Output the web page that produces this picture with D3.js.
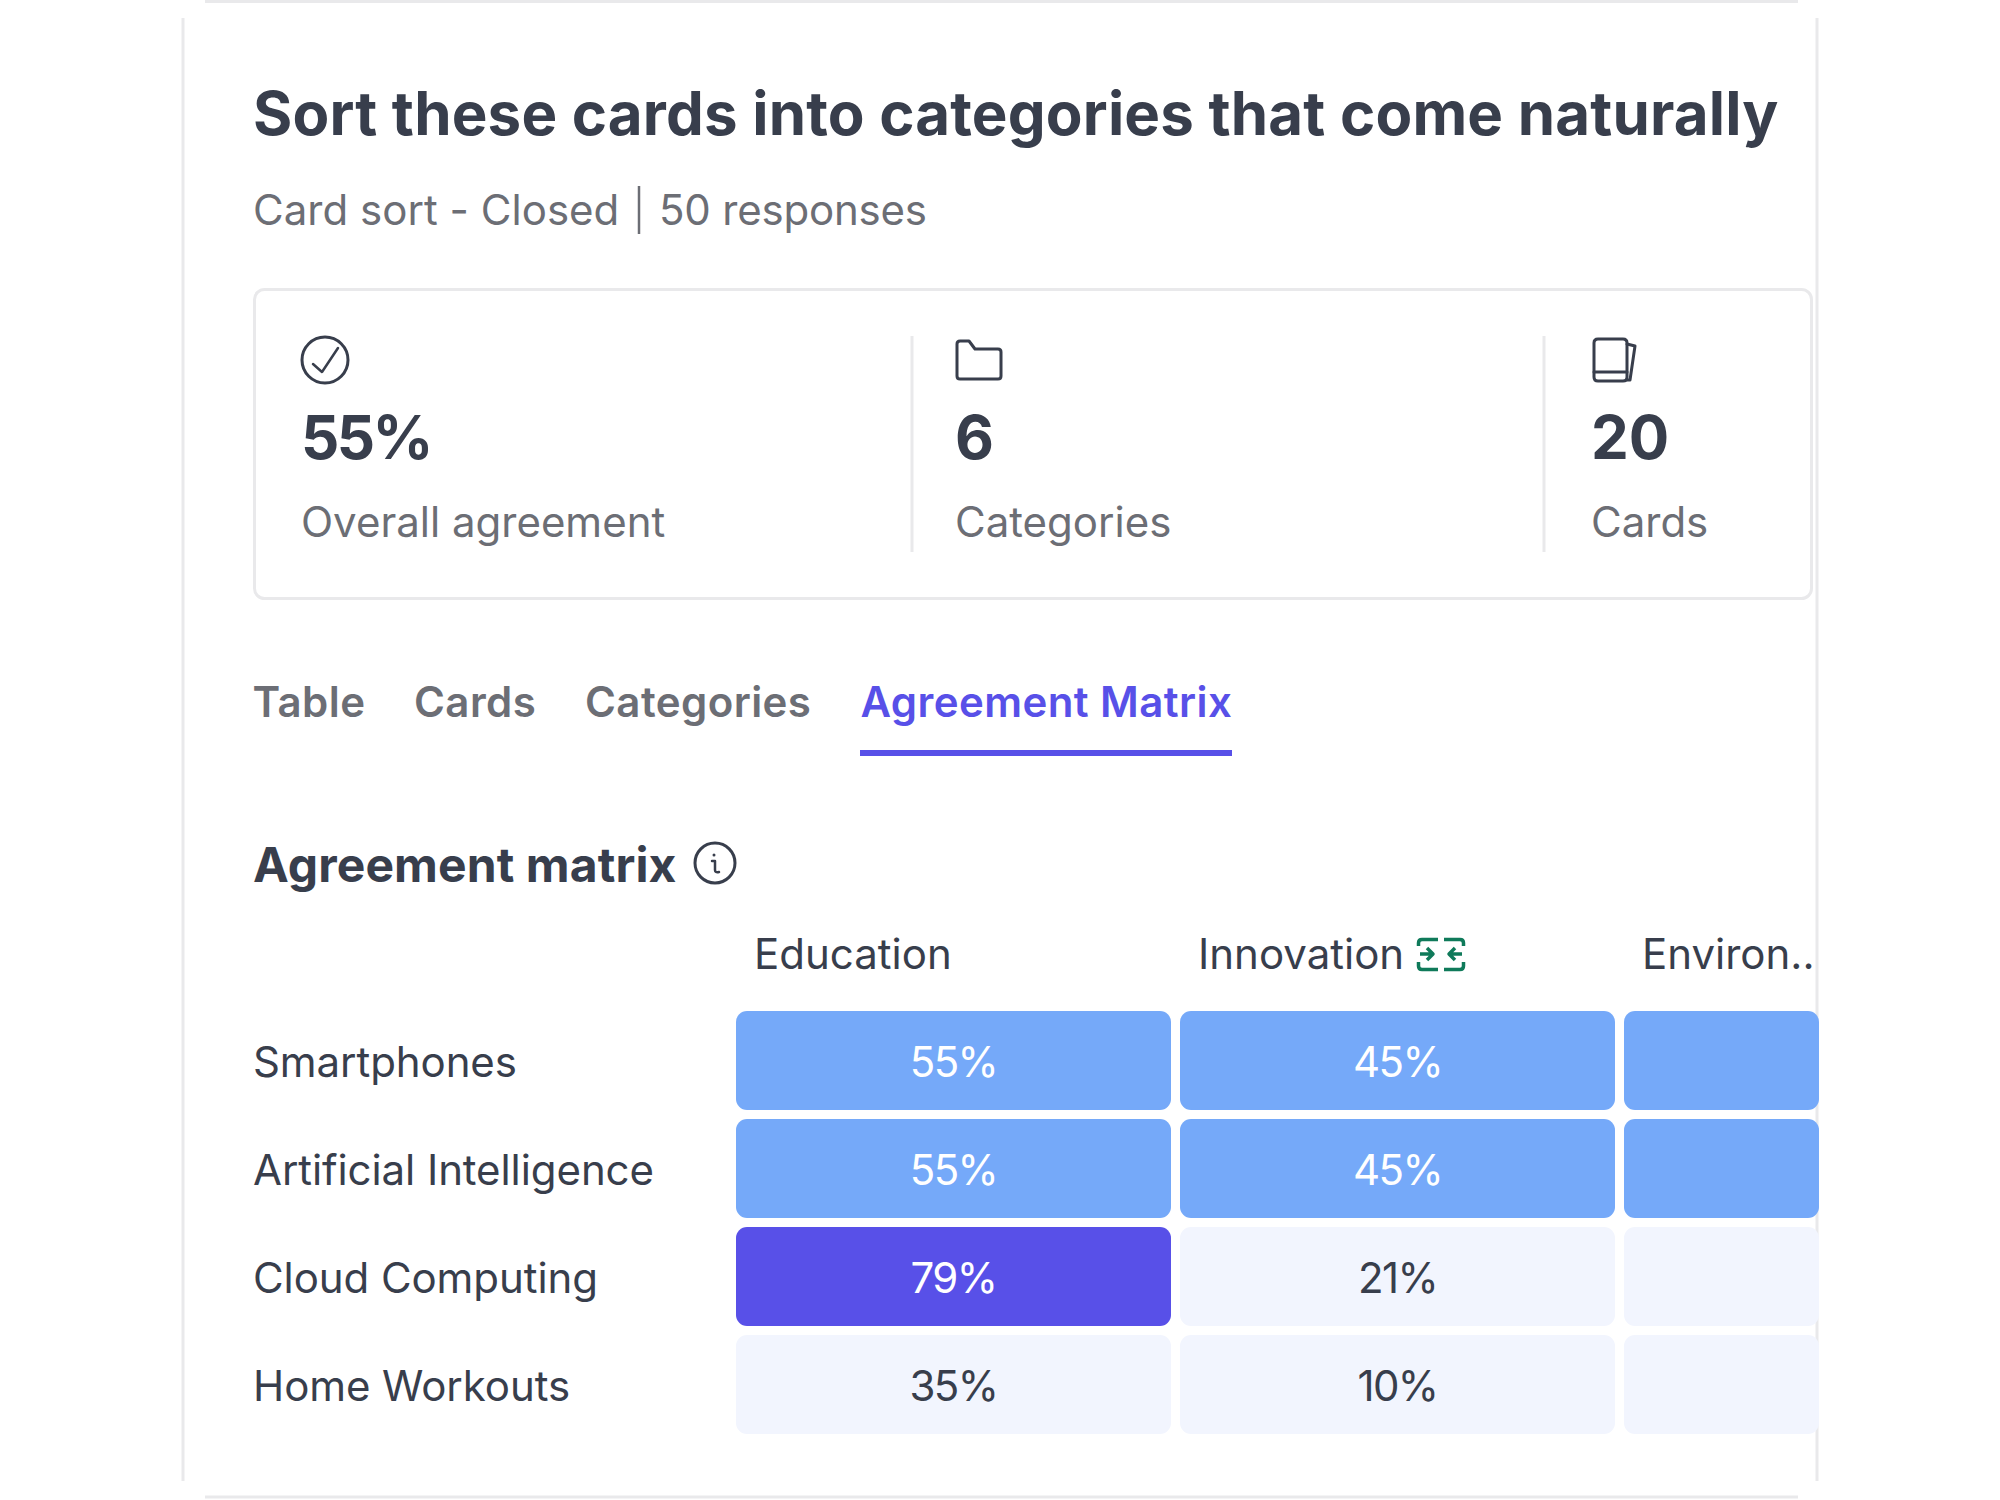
<!DOCTYPE html>
<html>
<head>
<meta charset="utf-8">
<script src="https://cdn.jsdelivr.net/npm/d3@7"></script>
<style>
  body { margin: 0; background: #fff; }
  text { font-family: Inter, "Noto Sans", sans-serif; }
</style>
</head>
<body>
<div id="chart"></div>
<script>
const title = "Sort these cards into categories that come naturally";
const subtitle = "Card sort - Closed";
const responses = "50 responses";
const statValues = ["55%", "6", "20"];
const statLabels = ["Overall agreement", "Categories", "Cards"];
const tabs = ["Table", "Cards", "Categories", "Agreement Matrix"];
const categories = ["Education", "Innovation", "Environ.."];
const cards = ["Smartphones", "Artificial Intelligence", "Cloud Computing", "Home Workouts"];
const education = [55, 55, 79, 35];
const innovation = [45, 45, 21, 10];
// third column runs off the card, its numbers can't be read - only the colour band shows
const environment = [45, 45, 21, 10];
const labelledColumns = 2;

const dark = "#383e4c", grey = "#6c6e75", line = "#e9e9eb", purple = "#5850e8";

const svg = d3.select("#chart").append("svg")
  .attr("width", 2000).attr("height", 1500)
  .attr("viewBox", "0 0 2000 1500");

const addText = (str, x, y, size, weight, fill, spacing) =>
  svg.append("text").attr("x", x).attr("y", y)
    .attr("font-size", size).attr("font-weight", weight)
    .attr("letter-spacing", spacing || 0)
    .attr("fill", fill).text(str);

const addLine = (x1, y1, x2, y2, color, width) =>
  svg.append("line").attr("x1", x1).attr("y1", y1).attr("x2", x2).attr("y2", y2)
    .attr("stroke", color).attr("stroke-width", width);

// outer card edges, corners are cut off in the screenshot
addLine(205, 1.5, 1798, 1.5, line, 3);
addLine(183, 18, 183, 1481, line, 3);
addLine(1817, 18, 1817, 1481, line, 3);
addLine(205, 1497, 1798, 1497, line, 3);

addText(title, 253, 135, 60, 700, dark, 0.19);
addText(subtitle, 253, 225, 42, 400, grey, 0.03);
addLine(639, 186, 639, 234, grey, 2.5);
addText(responses, 659, 225, 42, 400, grey, -0.2);

// stats box
svg.append("rect").attr("x", 254.5).attr("y", 289.5).attr("width", 1557).attr("height", 309)
  .attr("rx", 10).attr("fill", "#fff").attr("stroke", line).attr("stroke-width", 3);
addLine(912, 336, 912, 552, line, 3);
addLine(1544, 336, 1544, 552, line, 3);

const statX = [301, 955, 1591];
const statSpacing = [-2.6, 0, 0];
statValues.forEach((v, i) => {
  addText(v, statX[i], 459, 60, 700, dark, statSpacing[i]);
  addText(statLabels[i], statX[i], 537, 42, 400, grey);
});

const icon = (x, y) => svg.append("g").attr("transform", `translate(${x},${y})`)
  .attr("fill", "none").attr("stroke", dark).attr("stroke-width", 3)
  .attr("stroke-linejoin", "round").attr("stroke-linecap", "round");

const check = icon(325, 360);
check.append("circle").attr("r", 23);
check.append("path").attr("stroke-width", 2.5).attr("d", "M-12,4L-3,12L13,-12");

icon(957, 341).append("path")
  .attr("d", "M0,3Q0,0 3,0L12,0L18,8L41,8Q44,8 44,11L44,35Q44,38 41,38L3,38Q0,38 0,35Z");

const deck = icon(1594, 338);
deck.append("path").attr("d", "M4,1L29,1Q33,1 33,5L33,39Q33,43 29,43L4,43Q0,43 0,39L0,5Q0,1 4,1Z");
deck.append("path").attr("d", "M0,34L33,34");
deck.append("path").attr("d", "M33,6L41,8L36,42L33,42");

// tabs
const tabX = [252.5, 414, 585, 860.5];
tabs.forEach((t, i) => addText(t, tabX[i], 717, 42, 600, i === 3 ? purple : grey, 0.42));
svg.append("rect").attr("x", 860).attr("y", 750).attr("width", 372).attr("height", 6).attr("fill", purple);

// heading
addText("Agreement matrix", 253, 882, 48, 700, dark, 0.1);
const info = icon(715, 863);
info.append("circle").attr("r", 20);
info.append("circle").attr("cx", -1).attr("cy", -8).attr("r", 1.5).attr("fill", dark).attr("stroke", "none");
info.append("path").attr("stroke-width", 2.5).attr("d", "M-3,-2L0,-2L0,7Q0,10 4,9");

// matrix
const matrix = [education, innovation, environment];
const rightEdge = 1819;
const x = d3.scaleBand().domain(categories).range([736, 2059]).paddingInner(9 / 444);
const y = d3.scaleBand().domain(cards).range([1011, 1434]).paddingInner(9 / 108);
const color = d3.scaleThreshold().domain([40, 60]).range(["#f2f5fe", "#75a9f9", purple]);
const ink = d3.scaleThreshold().domain([40]).range([dark, "#fff"]);

const cells = categories.flatMap((c, i) => cards.map((r, j) => ({
  category: c, card: r, value: matrix[i][j], labelled: i < labelledColumns
})));

svg.append("g").selectAll("rect").data(cells).enter().append("rect")
  .attr("x", d => x(d.category))
  .attr("y", d => y(d.card))
  .attr("width", d => Math.min(x.bandwidth(), rightEdge - x(d.category)))
  .attr("height", y.bandwidth())
  .attr("rx", 11)
  .attr("fill", d => color(d.value));

svg.append("g").selectAll("text").data(cells.filter(d => d.labelled)).enter().append("text")
  .attr("x", d => x(d.category) + x.bandwidth() / 2)
  .attr("y", d => y(d.card) + y.bandwidth() / 2 + 16)
  .attr("text-anchor", "middle")
  .attr("font-size", 42)
  .attr("letter-spacing", -1.6)
  .attr("fill", d => ink(d.value))
  .text(d => d.value + "%");

svg.append("g").selectAll("text").data(cards).enter().append("text")
  .attr("x", 253)
  .attr("y", d => y(d) + y.bandwidth() / 2 + 16)
  .attr("font-size", 42)
  .attr("letter-spacing", -0.08)
  .attr("fill", dark)
  .text(d => d);

svg.append("g").selectAll("text").data(categories).enter().append("text")
  .attr("x", d => x(d) + 18)
  .attr("y", 969)
  .attr("font-size", 42)
  .attr("fill", dark)
  .text(d => d);

// sort arrows next to Innovation
const swap = svg.append("g").attr("transform", "translate(1417,938)")
  .attr("fill", "none").attr("stroke", "#0f7a5a").attr("stroke-width", 3.5)
  .attr("stroke-linejoin", "round");
swap.append("path").attr("d", "M21,1.5L5,1.5Q1.5,1.5 1.5,5L1.5,8M1.5,24L1.5,28Q1.5,31.5 5,31.5L21,31.5");
swap.append("path").attr("d", "M27,1.5L43,1.5Q46.5,1.5 46.5,5L46.5,8M46.5,24L46.5,28Q46.5,31.5 43,31.5L27,31.5");
swap.append("path").attr("d", "M3,16L16,16M10,10L16,16L10,22");
swap.append("path").attr("d", "M45,16L32,16M38,10L32,16L38,22");
</script>
</body>
</html>
